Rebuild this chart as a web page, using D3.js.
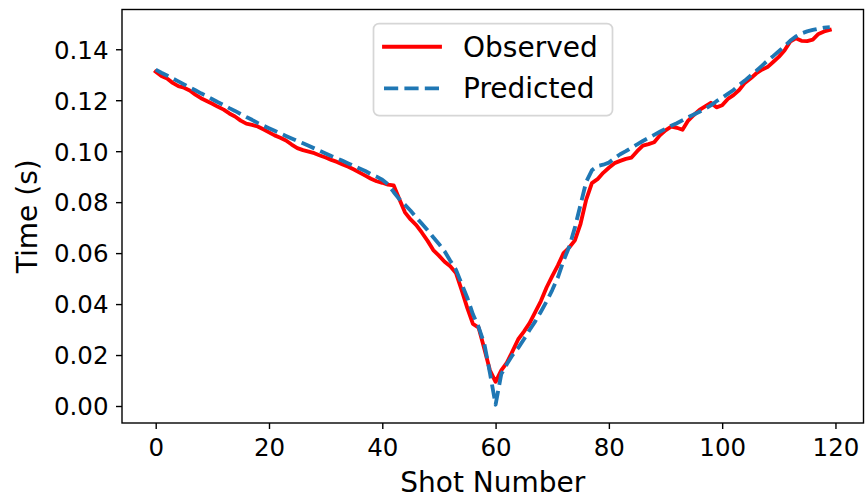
<!DOCTYPE html>
<html>
<head>
<meta charset="utf-8">
<script src="https://cdn.jsdelivr.net/npm/d3@7"></script>
<style>
  html, body { margin: 0; padding: 0; background: #fff; }
  svg { display: block; font-family: "DejaVu Sans", sans-serif; }
</style>
</head>
<body>
<svg id="chart" width="866" height="501"></svg>
<script>
// ---- data ----
const shots = d3.range(0, 120);
const observed = [
  0.1312, 0.1295, 0.1285, 0.1268, 0.1255, 0.1249, 0.1238, 0.1222, 0.1208, 0.1197,
  0.1186, 0.1174, 0.1163, 0.1148, 0.1136, 0.1120, 0.1108, 0.1103, 0.1097, 0.1086,
  0.1074, 0.1062, 0.1053, 0.1042, 0.1026, 0.1012, 0.1004, 0.0998, 0.0992, 0.0983,
  0.0975, 0.0966, 0.0958, 0.0948, 0.0939, 0.0928, 0.0916, 0.0904, 0.0892, 0.0882,
  0.0876, 0.0869, 0.0866, 0.0812, 0.0760, 0.0732, 0.0710, 0.0680, 0.0648, 0.0612,
  0.0590, 0.0566, 0.0548, 0.0522, 0.0456, 0.0385, 0.0322, 0.0308, 0.0226, 0.0140,
  0.0095, 0.0140, 0.0170, 0.0215, 0.0262, 0.0292, 0.0325, 0.0368, 0.0412, 0.0465,
  0.0510, 0.0552, 0.0600, 0.0622, 0.0650, 0.0715, 0.0810, 0.0875, 0.0890, 0.0915,
  0.0935, 0.0953, 0.0962, 0.0970, 0.0975, 0.1000, 0.1022, 0.1028, 0.1035, 0.1062,
  0.1082, 0.1096, 0.1092, 0.1084, 0.1120, 0.1142, 0.1162, 0.1176, 0.1190, 0.1172,
  0.1180, 0.1205, 0.1220, 0.1240, 0.1268, 0.1285, 0.1305, 0.1320, 0.1330, 0.1350,
  0.1370, 0.1395, 0.1430, 0.1443, 0.1433, 0.1432, 0.1438, 0.1460, 0.1470, 0.1476
];
const predicted = [
  0.1320, 0.1308, 0.1297, 0.1285, 0.1274, 0.1262, 0.1250, 0.1239, 0.1227, 0.1216,
  0.1204, 0.1192, 0.1181, 0.1169, 0.1158, 0.1146, 0.1134, 0.1123, 0.1111, 0.1100,
  0.1090, 0.1080, 0.1070, 0.1060, 0.1050, 0.1040, 0.1031, 0.1021, 0.1011, 0.1001,
  0.0991, 0.0981, 0.0972, 0.0962, 0.0952, 0.0942, 0.0932, 0.0922, 0.0910, 0.0900,
  0.0888, 0.0870, 0.0840, 0.0812, 0.0790, 0.0766, 0.0740, 0.0715, 0.0690, 0.0662,
  0.0636, 0.0607, 0.0570, 0.0535, 0.0480, 0.0425, 0.0360, 0.0310, 0.0245, 0.0130,
  0.0005, 0.0125, 0.0165, 0.0200, 0.0228, 0.0262, 0.0298, 0.0332, 0.0370, 0.0410,
  0.0455, 0.0505, 0.0570, 0.0625, 0.0700, 0.0790, 0.0880, 0.0925, 0.0942, 0.0947,
  0.0955, 0.0972, 0.0988, 0.1000, 0.1014, 0.1027, 0.1040, 0.1052, 0.1064, 0.1076,
  0.1088, 0.1100, 0.1110, 0.1121, 0.1133, 0.1144, 0.1155, 0.1167, 0.1180, 0.1196,
  0.1210, 0.1225, 0.1240, 0.1260, 0.1277, 0.1296, 0.1315, 0.1335, 0.1355, 0.1373,
  0.1392, 0.1412, 0.1433, 0.1450, 0.1462, 0.1470, 0.1476, 0.1481, 0.1485, 0.1487
];
const xTicks = [0, 20, 40, 60, 80, 100, 120];
const yTicks = [0.00, 0.02, 0.04, 0.06, 0.08, 0.10, 0.12, 0.14];
const seriesNames = ["Observed", "Predicted"];
const xLabel = "Shot Number";
const yLabel = "Time (s)";

// ---- layout ----
const L = 122, R = 863.5, T = 9.5, B = 423;
const svg = d3.select("#chart");

const x = d3.scaleLinear().domain([-5.95, 124.95]).range([L, R]);
const y = d3.scaleLinear().domain([-0.00667, 0.1556]).range([B, T]);

// axes
const xAxis = d3.axisBottom(x).tickValues(xTicks).tickFormat(d3.format("d"))
  .tickSize(6).tickSizeOuter(0).tickPadding(10);
const yAxis = d3.axisLeft(y).tickValues(yTicks).tickFormat(d3.format(".2f"))
  .tickSize(6).tickSizeOuter(0).tickPadding(7.5);

const gx = svg.append("g").attr("transform", `translate(0,${B})`).call(xAxis);
const gy = svg.append("g").attr("transform", `translate(${L},0)`).call(yAxis);
[gx, gy].forEach(g => {
  g.select(".domain").remove();
  g.selectAll(".tick line").attr("stroke", "#000").attr("stroke-width", 1.4);
  g.selectAll(".tick text").attr("fill", "#000").attr("font-size", "24.5px")
    .attr("font-family", "DejaVu Sans");
});
gy.selectAll(".tick text").attr("dy", "0.36em");

// lines
const line = d3.line().x((d, i) => x(shots[i])).y(d => y(d));
svg.append("path").datum(observed)
  .attr("d", line).attr("fill", "none")
  .attr("stroke", "#ff0000").attr("stroke-width", 3.85)
  .attr("stroke-linejoin", "round").attr("stroke-linecap", "square");
svg.append("path").datum(predicted)
  .attr("d", line).attr("fill", "none")
  .attr("stroke", "#1f77b4").attr("stroke-width", 3.85)
  .attr("stroke-dasharray", "14.2,6.2")
  .attr("stroke-linejoin", "round").attr("stroke-linecap", "butt");

// frame
svg.append("rect").attr("x", L).attr("y", T).attr("width", R - L).attr("height", B - T)
  .attr("fill", "none").attr("stroke", "#000").attr("stroke-width", 1.4);

// axis labels
svg.append("text").attr("x", (L + R) / 2).attr("y", 491.5)
  .attr("text-anchor", "middle").attr("font-size", "28px").attr("fill", "#000")
  .text(xLabel);
svg.append("text").attr("transform", `translate(36.5,${(T + B) / 2}) rotate(-90)`)
  .attr("text-anchor", "middle").attr("font-size", "28px").attr("fill", "#000")
  .text(yLabel);

// legend
const lg = svg.append("g");
const lx = 373.5, ly = 23.5, lw = 239, lh = 92;
lg.append("rect").attr("x", lx).attr("y", ly).attr("width", lw).attr("height", lh)
  .attr("rx", 5.6).attr("ry", 5.6)
  .attr("fill", "#fff").attr("fill-opacity", 0.8)
  .attr("stroke", "#d6d6d6").attr("stroke-width", 1.75);
const legendStyles = [
  { color: "#ff0000", dash: null, cap: "square" },
  { color: "#1f77b4", dash: "14.2,6.2", cap: "butt" }
];
seriesNames.forEach((name, i) => {
  const cy = 46.7 + i * 41.6;
  const ln = lg.append("line").attr("x1", 384).attr("x2", 440)
    .attr("y1", cy).attr("y2", cy)
    .attr("stroke", legendStyles[i].color).attr("stroke-width", 3.85)
    .attr("stroke-linecap", legendStyles[i].cap);
  if (legendStyles[i].dash) ln.attr("stroke-dasharray", legendStyles[i].dash);
  lg.append("text").attr("x", 463).attr("y", cy + 10)
    .attr("font-size", "28px").attr("fill", "#000").text(name);
});
</script>
</body>
</html>
